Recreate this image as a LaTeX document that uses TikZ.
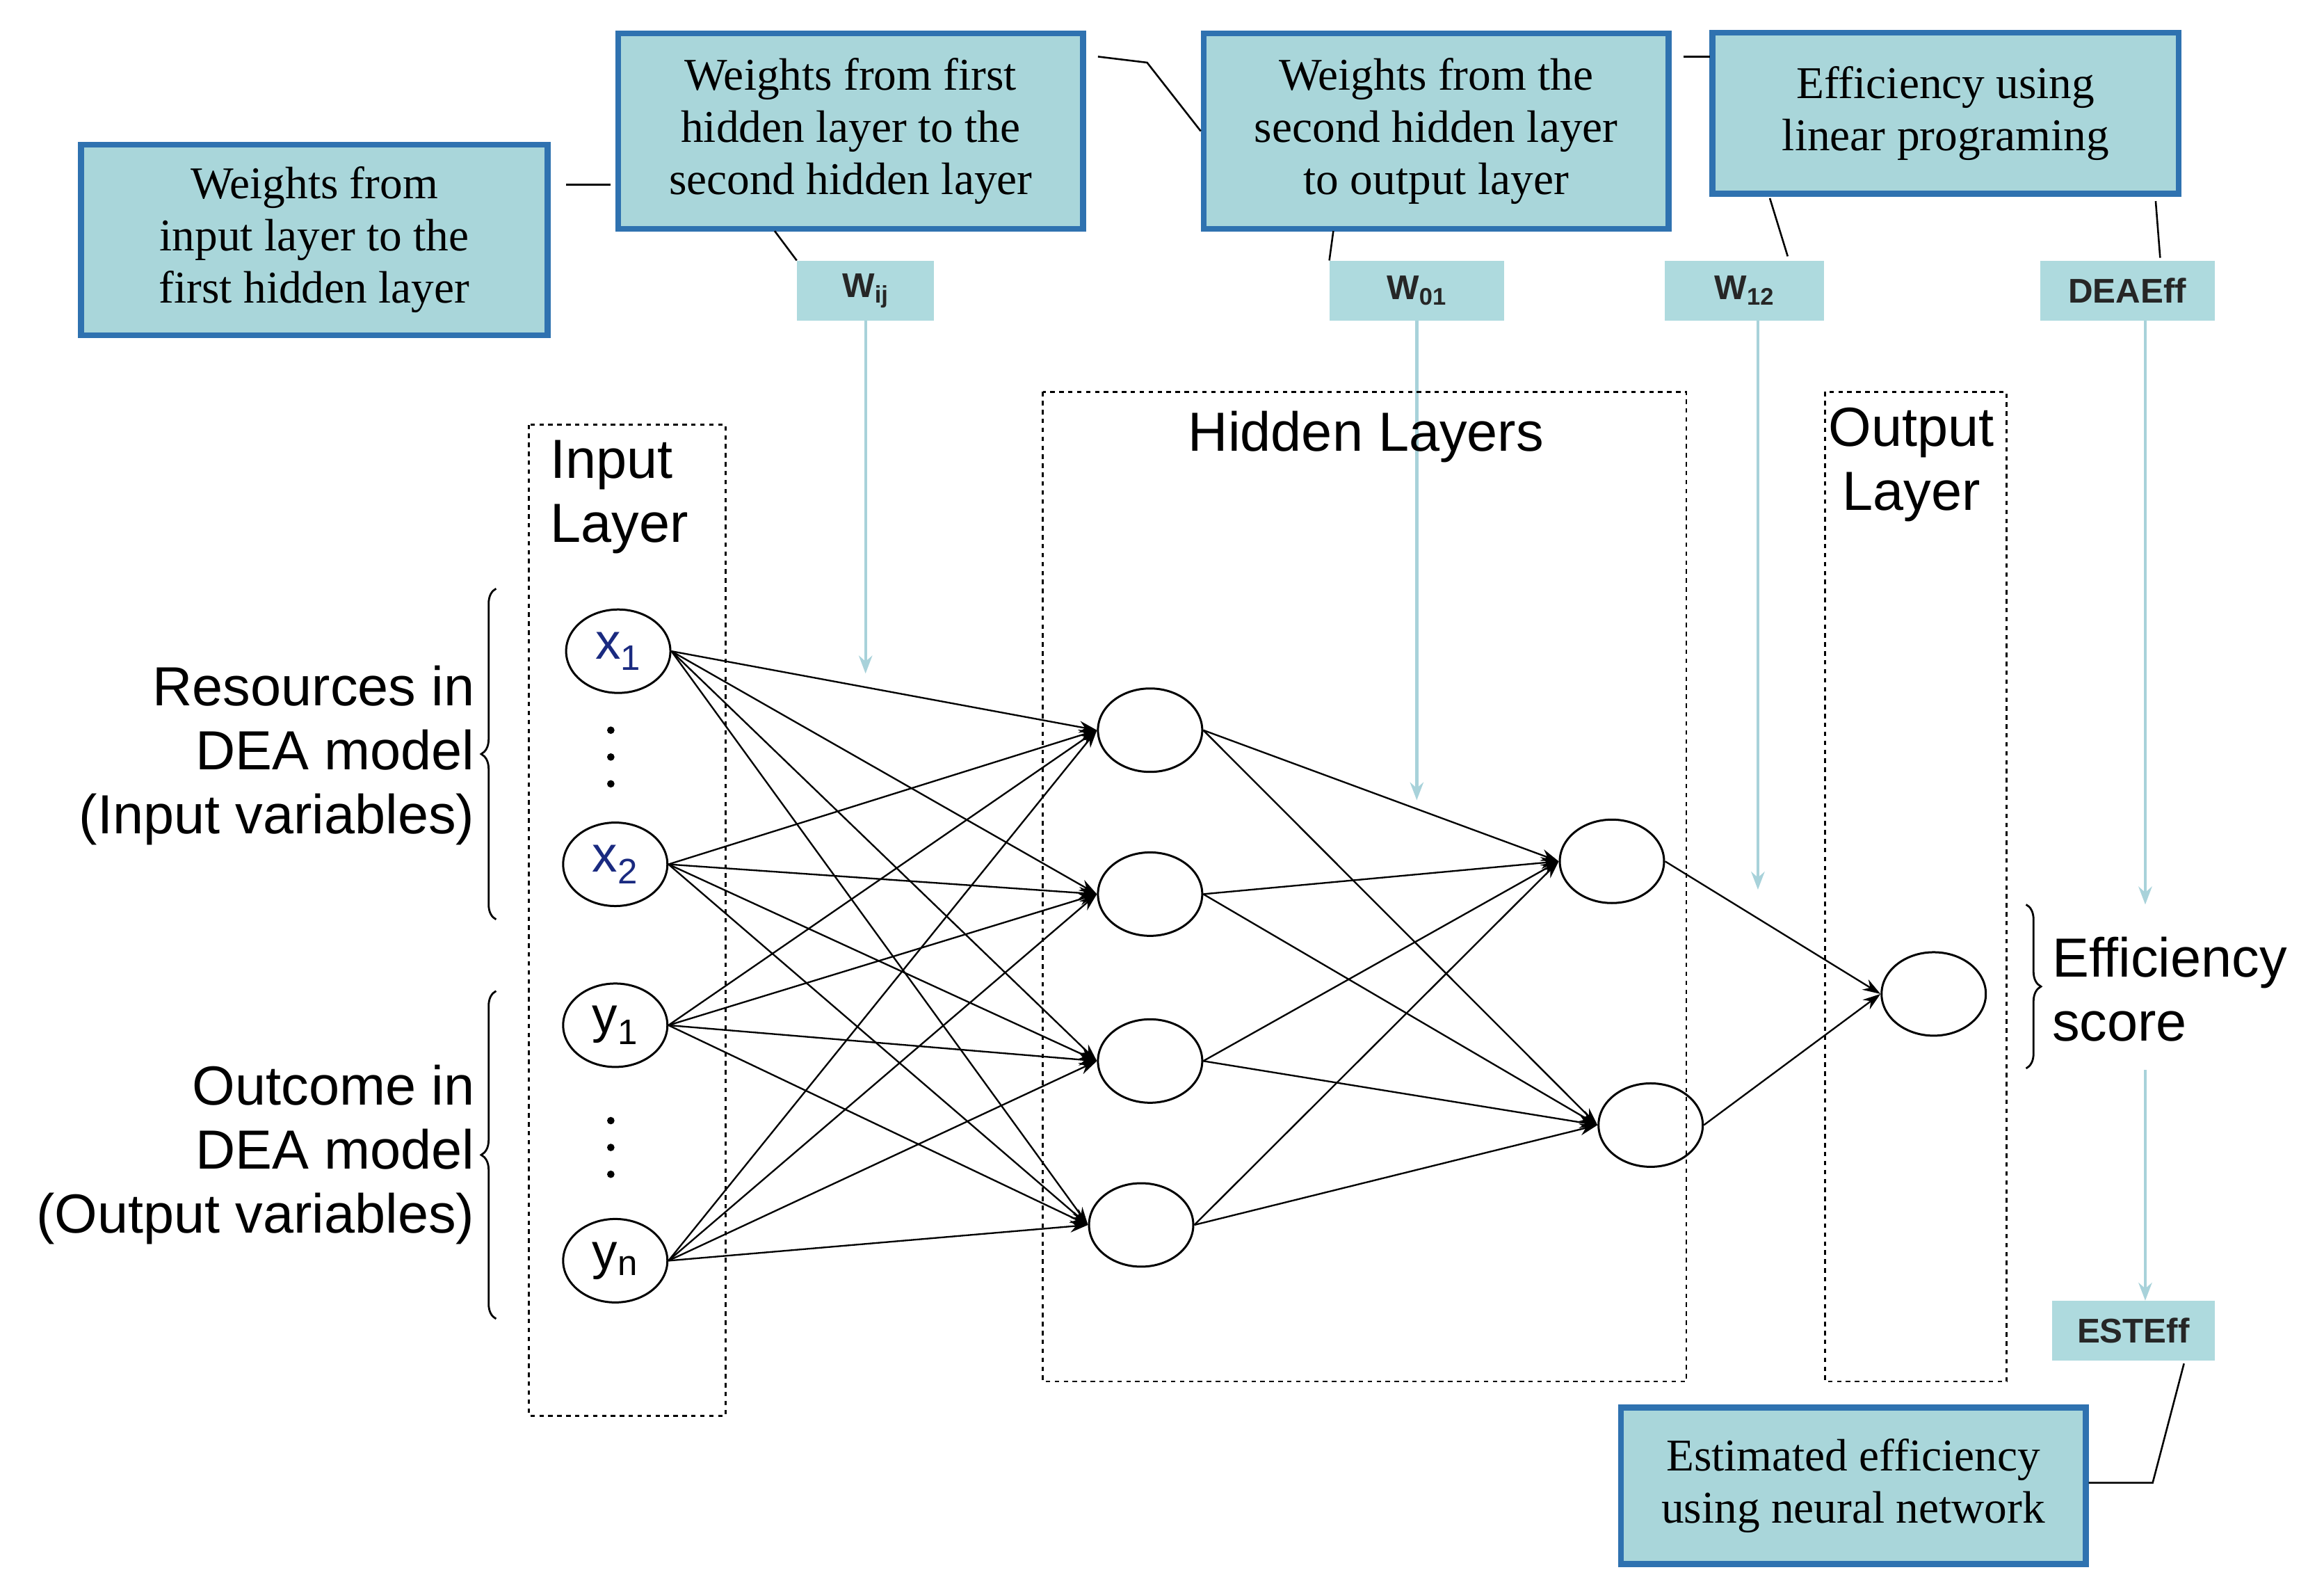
\documentclass[tikz,border=0pt]{standalone}
\usepackage{fontspec}
\setmainfont{Liberation Sans}
\newfontfamily\serf{Liberation Serif}
\usetikzlibrary{shapes.geometric,decorations.pathreplacing,arrows.meta}
\definecolor{boxfill}{HTML}{A9D6DA}
\definecolor{boxedge}{HTML}{2F72B0}
\definecolor{wfill}{HTML}{AEDADE}
\definecolor{arr}{HTML}{A8D2DA}
\definecolor{xblue}{HTML}{1A2A80}
\begin{document}
\begin{tikzpicture}[x=1pt,y=-1pt,
  ibox/.style={draw=boxedge,line width=4pt,fill=boxfill,align=center,font=\serf\fontsize{30.5}{35}\selectfont,inner sep=0pt},
  wlab/.style={fill=wfill,font=\bfseries\fontsize{23}{24}\selectfont,inner sep=0pt,text=black!85},
  neu/.style={draw,ellipse,line width=1.4pt,minimum width=70pt,minimum height=56pt,inner sep=0pt,font=\fontsize{34}{34}\selectfont},
  lyr/.style={draw,dashed,line width=1.2pt},
  conn/.style={line width=1.2pt},
  edge/.style={line width=1.1pt,-{Stealth[length=12pt,width=8pt]}},
  varr/.style={draw=arr,line width=2pt,-{Stealth[length=12pt,width=9pt]}},
  lbl/.style={font=\fontsize{37}{43}\selectfont},
  dot/.style={circle,fill,inner sep=0pt,minimum size=5pt},
  brace/.style={decorate,decoration={brace,amplitude=10pt},line width=1.3pt}]
\useasboundingbox (0,0) rectangle (1560,1070);
% info boxes
\node[ibox,minimum width=313pt,minimum height=128pt] (A) at (211,161) {Weights from\\input layer to the\\first hidden layer};
\node[ibox,minimum width=312pt,minimum height=131pt] (B) at (571,88) {Weights from first\\hidden layer to the\\second hidden layer};
\node[ibox,minimum width=312pt,minimum height=131pt] (C) at (964,88) {Weights from the\\second hidden layer\\to output layer};
\node[ibox,minimum width=313pt,minimum height=108pt] (D) at (1306,76) {Efficiency using\\linear programing};
\node[ibox,minimum width=312pt,minimum height=105pt] (E) at (1244,997) {Estimated efficiency\\using neural network};
% W labels
\node[wlab,minimum width=92pt,minimum height=40pt] (Wij) at (581,195) {W\textsubscript{ij}};
\node[wlab,minimum width=117pt,minimum height=40pt] (W01) at (951,195) {W\textsubscript{01}};
\node[wlab,minimum width=107pt,minimum height=40pt] (W12) at (1171,195) {W\textsubscript{12}};
\node[wlab,minimum width=117pt,minimum height=40pt] (DEA) at (1428,195) {DEAEff};
\node[wlab,minimum width=109pt,minimum height=40pt] (EST) at (1432,893) {ESTEff};
% thin connectors
\coordinate (c1) at (380,124); \coordinate (c2) at (410,124);
\draw[conn] (c1) -- (c2);
\draw[conn] (520,155) -- (Wij.north west);
\coordinate (c3) at (737,38); \coordinate (c4) at (770,42);
\draw[conn] (c3) -- (c4) -- (C.west);
\draw[conn] (895,155) -- (W01.north west);
\draw[conn] (1130,38) -- (1148,38);
\draw[conn] (1188,133) -- (1200,172);
\draw[conn] (1447,135) -- (1450,173);
\coordinate (e1) at (1466,915); \coordinate (e2) at (1445,995);
\draw[conn] (e1) -- (e2) -- (E.east |- e2);
% vertical arrows
\coordinate (t1) at (581,452); \draw[varr] (Wij) -- (t1);
\coordinate (t2) at (951,537); \draw[varr] (W01) -- (t2);
\coordinate (t3) at (1180,597); \draw[varr] (W12.south -| t3) -- (t3);
\coordinate (t4) at (1440,607); \draw[varr] (DEA.south -| t4) -- (t4);
\coordinate (t5) at (1440,718); \draw[varr] (t5) -- (EST.north -| t5);
% layer boxes
\draw[lyr] (355,285) rectangle (487,950);
\draw[lyr] (700,263) rectangle (1132,927);
\draw[lyr] (1225,263) rectangle (1347,927);
\node[lbl,align=left,anchor=north west] (Lin) at (366,292) {Input\\Layer};
\node[lbl] (Lhid) at (917,293) {Hidden Layers};
\node[lbl,align=center,anchor=north] (Lout) at (1283,270) {Output\\Layer};
% neurons
\node[neu] (x1) at (415,437) {\textcolor{xblue}{x\textsubscript{1}}};
\node[neu] (x2) at (413,580) {\textcolor{xblue}{x\textsubscript{2}}};
\node[neu] (y1) at (413,688) {y\textsubscript{1}};
\node[neu] (yn) at (413,846) {y\textsubscript{n}};
\foreach \n/\yy in {a/490,b/508,c/526,d/752,e/770,f/788}{\node[dot] (dt\n) at (410,\yy) {};}
\node[neu] (h1) at (772,490) {};
\node[neu] (h2) at (772,600) {};
\node[neu] (h3) at (772,712) {};
\node[neu] (h4) at (766,822) {};
\node[neu] (g1) at (1082,578) {};
\node[neu] (g2) at (1108,755) {};
\node[neu] (o) at (1298,667) {};
\foreach \i in {x1,x2,y1,yn}{\foreach \j in {h1,h2,h3,h4}{\draw[edge] (\i.east) -- (\j.west);}}
\foreach \i in {h1,h2,h3,h4}{\foreach \j in {g1,g2}{\draw[edge] (\i.east) -- (\j.west);}}
\foreach \i in {g1,g2}{\draw[edge] (\i.east) -- (o.west);}
% braces
\coordinate (b1) at (333,617); \coordinate (b2) at (333,395);
\draw[brace] (b1) -- (b2);
\coordinate (b3) at (333,885); \coordinate (b4) at (333,665);
\draw[brace] (b3) -- (b4);
\coordinate (b5) at (1360,607); \coordinate (b6) at (1360,717);
\draw[brace] (b5) -- (b6);
\node[lbl,align=right,anchor=east] (R) at (322,507) {Resources in\\DEA model\\(Input variables)};
\node[lbl,align=right,anchor=east] (O) at (322,775) {Outcome in\\DEA model\\(Output variables)};
\node[lbl,align=left,anchor=west] (S) at (1374,664) {Efficiency\\score};
\end{tikzpicture}
\end{document}
